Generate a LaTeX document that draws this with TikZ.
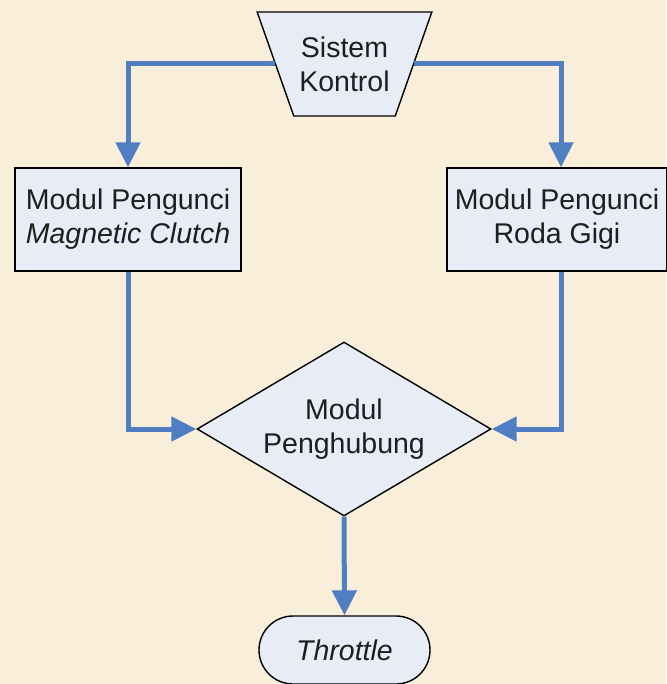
\documentclass[tikz,border=0pt]{standalone}
\usepackage{fontspec}
\setmainfont{Liberation Sans}
\usepackage{tikz}
\usetikzlibrary{arrows.meta,shapes.geometric,shapes.misc}
\definecolor{cBiru}{HTML}{4F7EC3}
\definecolor{cIsi}{HTML}{E8ECF6}
\definecolor{cLatar}{HTML}{F9EEDA}
\definecolor{cTeks}{HTML}{1E1E1E}

\begin{document}
\begin{tikzpicture}[
  x=1pt,y=1pt,font=\fontsize{28.5}{34}\selectfont,text=cTeks,
  kotak/.style={draw=black,fill=cIsi,line width=1.4pt,align=center,inner sep=2pt,
                minimum height=103pt},
  kontrol/.style={trapezium,shape border rotate=180,trapezium stretches=true,
                  draw=black,fill=cIsi,line width=1.4pt,align=center,
                  minimum width=175pt,minimum height=104pt,inner sep=2pt},
  hubung/.style={diamond,aspect=1.7,draw=black,fill=cIsi,line width=1.4pt,align=center,
                 minimum width=294pt,minimum height=174pt,inner sep=0pt},
  ujung/.style={rounded rectangle,draw=black,fill=cIsi,line width=1.4pt,align=center,
                minimum width=175pt,minimum height=68pt,inner sep=2pt},
  ar/.style={-{Triangle[length=25pt,width=24pt]},draw=cBiru,line width=5pt}
]
% ---- latar
\fill[cLatar] (0,0) rectangle (666,-684);
\useasboundingbox (0,0) rectangle (666,-684);

% ---- blok
\node[kontrol] (sk) at (344.5,-64) {Sistem\\ Kontrol};
\node[kotak,minimum width=226pt] (mc) at (128,-219.5) {Modul Pengunci\\ \emph{Magnetic Clutch}};
\node[kotak,minimum width=220pt] (rg) at (557,-219.5) {Modul Pengunci\\ Roda Gigi};
\node[hubung] (mp) at (344,-429) {Modul\\ Penghubung};
\node[ujung] (th) at (344.5,-650) {\emph{Throttle}};

% ---- panah
\draw[ar] (sk.west) -| (mc.north);
\draw[ar] (sk.east) -| ([xshift=4pt]rg.north);
\draw[ar] (mc.south) |- (mp.west);
\draw[ar] ([xshift=4pt]rg.south) |- (mp.east);
\draw[ar] (mp.south) -- (th.north);
\end{tikzpicture}
\end{document}
